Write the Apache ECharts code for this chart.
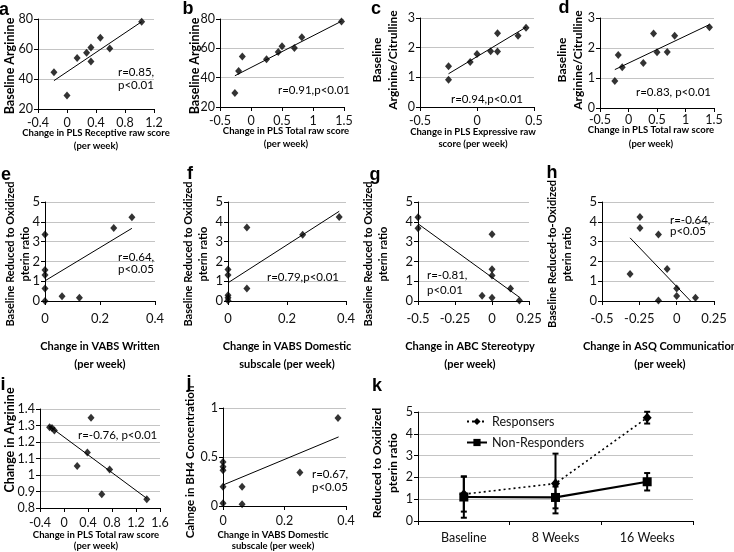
<!DOCTYPE html>
<html><head><meta charset="utf-8">
<script src="https://cdn.jsdelivr.net/npm/echarts@6/dist/echarts.min.js"></script>
<style>html,body{margin:0;padding:0;background:#fff}#c{width:734px;height:552px}</style>
</head><body><div id="c"></div>
<script>
// ---- data ----
const aX = [-0.18, 0.0, 0.14, 0.27, 0.33, 0.33, 0.46, 0.59, 1.03];
const aY = [44.5, 29, 54, 57.5, 61, 51.6, 67.5, 60.3, 78.2];
const aFit = [[-0.18, 38.9], [1.03, 78.2]];

const bX = [-0.26, -0.2, -0.14, 0.25, 0.44, 0.5, 0.7, 0.82, 1.46];
const bY = [29.5, 44.5, 54.5, 52.5, 57.5, 61.5, 60.3, 67.5, 78.3];
const bFit = [[-0.26, 41.3], [1.46, 78.5]];

const cX = [-0.25, -0.25, -0.06, 0, 0.12, 0.18, 0.18, 0.36, 0.43];
const cY = [1.37, 0.92, 1.52, 1.79, 1.88, 2.49, 1.87, 2.40, 2.67];
const cFit = [[-0.25, 1.12], [0.43, 2.69]];

const dX = [-0.24, -0.18, -0.11, 0.26, 0.44, 0.5, 0.68, 0.81, 1.42];
const dY = [0.9, 1.77, 1.36, 1.5, 2.48, 1.86, 1.87, 2.41, 2.69];
const dFit = [[-0.24, 1.28], [1.42, 2.78]];

const eX = [0, 0, 0, 0, 0, 0.062, 0.125, 0.25, 0.316];
const eY = [3.36, 1.57, 1.31, 0.63, 0, 0.24, 0.17, 3.69, 4.23];
const eFit = [[0, 1.02], [0.316, 3.67]];

const fX = [0, 0, 0, 0, 0, 0.064, 0.064, 0.253, 0.377];
const fY = [1.59, 1.31, 0.29, 0.17, 0.03, 3.71, 0.63, 3.34, 4.24];
const fFit = [[0, 0.92], [0.377, 4.53]];

const gX = [-0.5, -0.5, -0.067, 0, 0, 0, 0, 0.125, 0.185];
const gY = [4.23, 3.67, 0.26, 3.37, 1.6, 1.29, 0.17, 0.63, 0.02];
const gFit = [[-0.5, 3.9], [0.185, 0.19]];

const hX = [-0.312, -0.246, -0.246, -0.122, -0.122, -0.064, 0, 0, 0.126];
const hY = [1.36, 4.24, 3.69, 3.36, 0.03, 1.61, 0.63, 0.25, 0.17];
const hFit = [[-0.312, 3.19], [0.093, 0]];

const iX = [-0.24, -0.2, -0.16, 0.22, 0.39, 0.45, 0.63, 0.76, 1.38];
const iY = [1.29, 1.285, 1.27, 1.055, 1.136, 1.347, 0.883, 1.033, 0.853];
const iFit = [[-0.26, 1.30], [1.38, 0.858]];

const jX = [0, 0, 0, 0, 0, 0.062, 0.062, 0.25, 0.374];
const jY = [0.45, 0.40, 0.366, 0.197, 0.027, 0.197, 0.017, 0.342, 0.898];
const jFit = [[0, 0.214], [0.376, 0.705]];

const kCategories = ['Baseline', '8 Weeks', '16 Weeks'];
const respMean = [1.23, 1.72, 4.74];
const respErr = [0.80, 1.37, 0.27];
const nonMean = [1.10, 1.08, 1.80];
const nonErr = [0.95, 0.50, 0.40];

// ---- chart ----
const F = 'Lato, "Open Sans", sans-serif';
const chart = echarts.init(document.getElementById('c'), null, {renderer: 'canvas'});
const option = {animation: false, backgroundColor: '#fff', grid: [], xAxis: [], yAxis: [], series: [], graphic: [], legend: []};

function axisBase(fs, margin) {
  return {
    axisLine: {show: true, onZero: false, lineStyle: {color: '#000', width: 1}},
    axisTick: {show: true, length: 4, lineStyle: {color: '#000'}},
    axisLabel: {color: '#111', fontSize: fs, fontFamily: F, margin: margin}
  };
}

function addPanel(p) {
  const gi = option.grid.length;
  option.grid.push({left: p.l, top: p.t, width: p.r - p.l, height: p.b - p.t, outerBoundsMode: 'none'});
  option.xAxis.push(Object.assign(axisBase(p.fs, p.xm), {
    type: 'value', gridIndex: gi, min: p.xr[0], max: p.xr[1], interval: p.xr[2],
    splitLine: {show: false}
  }));
  option.yAxis.push(Object.assign(axisBase(p.fs, 5), {
    type: 'value', gridIndex: gi, min: p.yr[0], max: p.yr[1], interval: p.yr[2],
    splitLine: {show: true, lineStyle: {color: '#c4c4c4', width: 1}}
  }));
  option.series.push({
    type: 'scatter', xAxisIndex: gi, yAxisIndex: gi, symbol: 'diamond', symbolSize: [7, 8],
    itemStyle: {color: '#000'}, data: p.x.map((v, k) => [v, p.y[k]]), z: 3
  });
  option.series.push({
    type: 'line', xAxisIndex: gi, yAxisIndex: gi, data: p.fit, symbol: 'none',
    lineStyle: {color: '#000', width: 1}, z: 2
  });
}

const panels = [
  {l: 38, r: 154, t: 19, b: 109, x: aX, y: aY, fit: aFit, xr: [-0.4, 1.2, 0.4], yr: [20, 80, 20], fs: 12.5, xm: 7},
  {l: 220, r: 344, t: 19, b: 107, x: bX, y: bY, fit: bFit, xr: [-0.5, 1.5, 0.5], yr: [20, 80, 20], fs: 12.5, xm: 7},
  {l: 420, r: 534, t: 18, b: 107, x: cX, y: cY, fit: cFit, xr: [-0.5, 0.5, 0.5], yr: [0, 3, 1], fs: 12.5, xm: 7},
  {l: 600, r: 714, t: 18, b: 108, x: dX, y: dY, fit: dFit, xr: [-0.5, 1.5, 0.5], yr: [0, 3, 1], fs: 12.5, xm: 5},
  {l: 45, r: 155, t: 202, b: 301, x: eX, y: eY, fit: eFit, xr: [0, 0.4, 0.2], yr: [0, 5, 1], fs: 13, xm: 11},
  {l: 228, r: 346, t: 202, b: 301, x: fX, y: fY, fit: fFit, xr: [0, 0.4, 0.2], yr: [0, 5, 1], fs: 13, xm: 11},
  {l: 418, r: 529, t: 202, b: 301, x: gX, y: gY, fit: gFit, xr: [-0.5, 0.25, 0.25], yr: [0, 5, 1], fs: 13, xm: 11},
  {l: 602, r: 714, t: 202, b: 301, x: hX, y: hY, fit: hFit, xr: [-0.5, 0.25, 0.25], yr: [0, 5, 1], fs: 13, xm: 11},
  {l: 40, r: 160, t: 409, b: 508, x: iX, y: iY, fit: iFit, xr: [-0.4, 1.6, 0.4], yr: [0.8, 1.4, 0.1], fs: 12.5, xm: 8},
  {l: 223, r: 346, t: 408, b: 506, x: jX, y: jY, fit: jFit, xr: [0, 0.4, 0.2], yr: [0, 1, 0.5], fs: 12.5, xm: 8}
];
panels.forEach(addPanel);

// ---- panel k ----
const kg = option.grid.length;
option.grid.push({left: 418, top: 412, width: 275, height: 109, outerBoundsMode: 'none'});
option.xAxis.push(Object.assign(axisBase(12.5, 10), {
  type: 'category', gridIndex: kg, data: kCategories, boundaryGap: true, splitLine: {show: false}
}));
option.yAxis.push(Object.assign(axisBase(12.5, 5), {
  type: 'value', gridIndex: kg, min: 0, max: 5, interval: 1,
  splitLine: {show: true, lineStyle: {color: '#c4c4c4', width: 1}}
}));
function errRender(params, api) {
  const x = api.value(0), lo = api.value(1), hi = api.value(2);
  const p1 = api.coord([x, hi]), p2 = api.coord([x, lo]);
  const w = 3, st = {stroke: '#000', lineWidth: 2};
  return {type: 'group', children: [
    {type: 'line', shape: {x1: p1[0], y1: p1[1], x2: p2[0], y2: p2[1]}, style: st},
    {type: 'line', shape: {x1: p1[0] - w, y1: p1[1], x2: p1[0] + w, y2: p1[1]}, style: st},
    {type: 'line', shape: {x1: p2[0] - w, y1: p2[1], x2: p2[0] + w, y2: p2[1]}, style: st}
  ]};
}
option.series.push({
  type: 'custom', xAxisIndex: kg, yAxisIndex: kg, renderItem: errRender, z: 1,
  encode: {x: 0, y: [1, 2]},
  data: respMean.map((m, k) => [k, m - respErr[k], m + respErr[k]])
});
option.series.push({
  type: 'custom', xAxisIndex: kg, yAxisIndex: kg, renderItem: errRender, z: 1,
  encode: {x: 0, y: [1, 2]},
  data: nonMean.map((m, k) => [k, m - nonErr[k], m + nonErr[k]])
});
option.series.push({
  name: 'Responsers', type: 'line', xAxisIndex: kg, yAxisIndex: kg, data: respMean,
  symbol: 'diamond', symbolSize: [9, 10], itemStyle: {color: '#000'},
  lineStyle: {color: '#000', width: 1.6, type: [2, 3]}, z: 3
});
option.series.push({
  name: 'Non-Responders', type: 'line', xAxisIndex: kg, yAxisIndex: kg, data: nonMean,
  symbol: 'rect', symbolSize: 9, itemStyle: {color: '#000'},
  lineStyle: {color: '#000', width: 2.2}, z: 3
});
option.legend.push({
  data: ['Responsers', 'Non-Responders'], orient: 'vertical', left: 461, top: 410,
  itemWidth: 20, itemHeight: 9, itemGap: 8,
  textStyle: {fontSize: 12.5, fontFamily: F, color: '#111'}
});

// ---- texts ----
function txt(x, y, s, font, align, rot, lh) {
  return {type: 'text', x: x, y: y, rotation: rot || 0, z: 10,
    style: {text: s, font: font, fill: '#000', textAlign: align || 'left', textVerticalAlign: 'middle', lineHeight: lh || undefined}};
}
const LET = 'bold 18px "Liberation Sans", Arial, sans-serif';
const YN = 'bold 12px ' + F;
const XN1 = 'bold 9.5px ' + F;
const XN2 = 'bold 11px ' + F;
const RT = '11.5px ' + F;
const R90 = Math.PI / 2;
const G = option.graphic;
[['a', 4, 10], ['b', 188, 9], ['c', 376, 9], ['d', 564, 8], ['e', 6, 175], ['f', 190, 174],
 ['g', 375, 175], ['h', 552, 173], ['i', 3, 385], ['j', 189, 383], ['k', 377, 386]]
  .forEach(v => G.push(txt(v[1], v[2], v[0], LET, 'center')));

// y axis titles
G.push(txt(10, 66, 'Baseline Arginine', 'bold 12.5px ' + F, 'center', R90));
G.push(txt(195, 66, 'Baseline Arginine', 'bold 12.5px ' + F, 'center', R90));
G.push(txt(385, 60, 'Baseline\nArginine/Citrulline', YN, 'center', R90, 16));
G.push(txt(570.5, 60, 'Baseline\nArginine/Citrulline', YN, 'center', R90, 16));
G.push(txt(17.5, 254, 'Baseline Reduced to Oxidized\npterin ratio', 'bold 11px ' + F, 'center', R90, 15));
G.push(txt(195.5, 254, 'Baseline Reduced to Oxidized\npterin ratio', 'bold 11px ' + F, 'center', R90, 15));
G.push(txt(375.5, 254, 'Baseline Reduced to Oxidized\npterin ratio', 'bold 11px ' + F, 'center', R90, 15));
G.push(txt(559.5, 254, 'Baseline Reduced-to-Oxidized\npterin ratio', 'bold 11px ' + F, 'center', R90, 15));
G.push(txt(10, 440, 'Change in Arginine', 'bold 12.5px ' + F, 'center', R90));
G.push(txt(190, 462, 'Cahnge in BH4 Concentration', 'bold 11.5px ' + F, 'center', R90));
G.push(txt(385.5, 463, 'Reduced to Oxidized\npterin ratio', YN, 'center', R90, 16));

// x axis titles
G.push(txt(96, 139, 'Change in PLS Receptive raw score\n(per week)', XN1, 'center', 0, 13));
G.push(txt(286, 137, 'Change in PLS Total raw score\n(per week)', XN1, 'center', 0, 13));
G.push(txt(473, 138, 'Change in PLS Expressive raw\nscore (per week)', XN1, 'center', 0, 12));
G.push(txt(651, 137, 'Change in PLS Total raw score\n(per week)', XN1, 'center', 0, 14));
G.push(txt(100, 355, 'Change in VABS Written\n(per week)', XN2, 'center', 0, 18));
G.push(txt(287, 355, 'Change in VABS Domestic\nsubscale (per week)', XN2, 'center', 0, 18));
G.push(txt(470, 355, 'Change in ABC Stereotypy\n(per week)', XN2, 'center', 0, 18));
G.push(txt(660, 355, 'Change in ASQ Communication\n(per week)', XN2, 'center', 0, 18));
G.push(txt(96, 540, 'Change in PLS Total raw score\n(per week)', XN1, 'center', 0, 11));
G.push(txt(273, 540, 'Change in VABS Domestic\nsubscale (per week)', XN1, 'center', 0, 11));

// correlation annotations
G.push(txt(118, 78.5, 'r=0.85,\np<0.01', RT, 'left', 0, 13));
G.push(txt(278, 90, 'r=0.91,p<0.01', RT));
G.push(txt(451, 99, 'r=0.94,p<0.01', RT));
G.push(txt(636, 92, 'r=0.83, p<0.01', RT));
G.push(txt(118, 263, 'r=0.64,\np<0.05', RT, 'left', 0, 12));
G.push(txt(267, 277, 'r=0.79,p<0.01', RT));
G.push(txt(427, 282.5, 'r=-0.81,\np<0.01', RT, 'left', 0, 15));
G.push(txt(670, 226, 'r=-0.64,\np<0.05', RT, 'left', 0, 11));
G.push(txt(78, 435, 'r=-0.76, p<0.01', RT));
G.push(txt(312, 480.5, 'r=0.67,\np<0.05', RT, 'left', 0, 13));

chart.setOption(option);
</script>
</body></html>
